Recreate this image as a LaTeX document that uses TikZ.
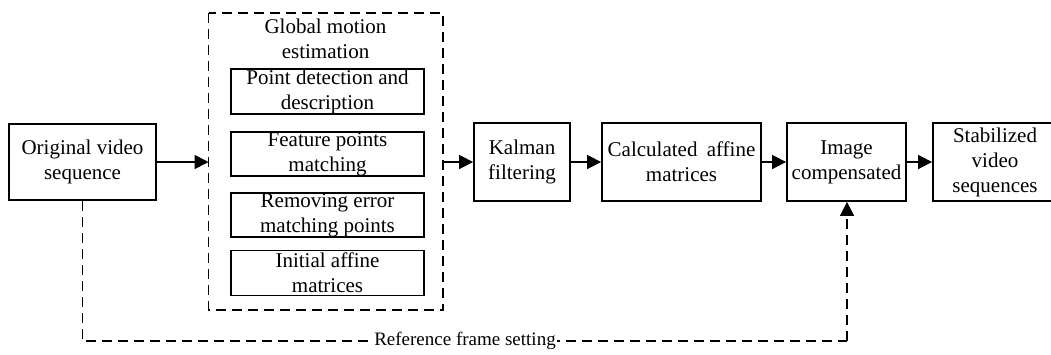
\documentclass[tikz,border=0pt]{standalone}
\usepackage{fontspec}
\setmainfont{Liberation Serif}
\usetikzlibrary{arrows.meta}
\begin{document}
\begin{tikzpicture}[x=1pt,y=-1pt,
  every node/.style={font=\fontsize{21}{25}\selectfont, align=center},
  blk/.style={draw, line width=1.8pt, inner sep=0pt},
  dsh/.style={line width=1.6pt, dash pattern=on 10pt off 6pt},
  arr/.style={line width=1.6pt, -{Triangle[length=14pt,width=14pt]}}]
\useasboundingbox (0,0) rectangle (1051,354);
\clip (0,0) rectangle (1051,354);
% main boxes
\node[blk, minimum width=147pt, minimum height=76pt] (orig) at (82.5,162) {Original video\\sequence};
\draw[dsh] (208.5,13) rectangle (443,310);
\node (gmeT) at (325.5,38.5) {Global motion\\estimation};
\coordinate (gmeL) at (208.5,162);
\coordinate (gmeR) at (443,162);
\node[blk, minimum width=193pt, minimum height=45pt] (p1) at (327.5,91.5) {Point detection and\\description};
\node[blk, minimum width=193pt, minimum height=44pt] (p2) at (327.5,154) {Feature points\\matching};
\node[blk, minimum width=193pt, minimum height=44pt] (p3) at (327.5,215) {Removing error\\matching points};
\node[blk, minimum width=193pt, minimum height=45pt] (p4) at (327.5,273) {Initial affine\\matrices};
\node[blk, minimum width=96pt, minimum height=78pt] (kal) at (522,162) {Kalman\\filtering};
\node[blk, minimum width=159pt, minimum height=78pt] (cal) at (681.5,162) {Calculated\hspace{4pt} affine\\matrices};
\node[blk, minimum width=119pt, minimum height=78pt] (img) at (846.5,162) {Image\\compensated};
\node[blk, minimum width=124pt, minimum height=78pt] (stab) at (995,162) {Stabilized\\video\\sequences};
% connectors
\draw[arr] (orig.east) -- (gmeL);
\draw[arr] (gmeR) -- (kal.west);
\draw[arr] (kal.east) -- (cal.west);
\draw[arr] (cal.east) -- (img.west);
\draw[arr] (img.east) -- (stab.west);
% reference frame feedback
\coordinate (c1) at (82.5,341);
\coordinate (c2) at (847,341);
\draw[dsh] (orig.south) -- (c1) -- (c2);
\draw[dsh, -{Triangle[length=14pt,width=14pt]}] (c2) -- (img.south -| c2);
\node[fill=white, inner sep=1pt, font=\fontsize{19}{22}\selectfont] (lbl) at (465,341) {Reference frame setting};
\end{tikzpicture}
\end{document}
